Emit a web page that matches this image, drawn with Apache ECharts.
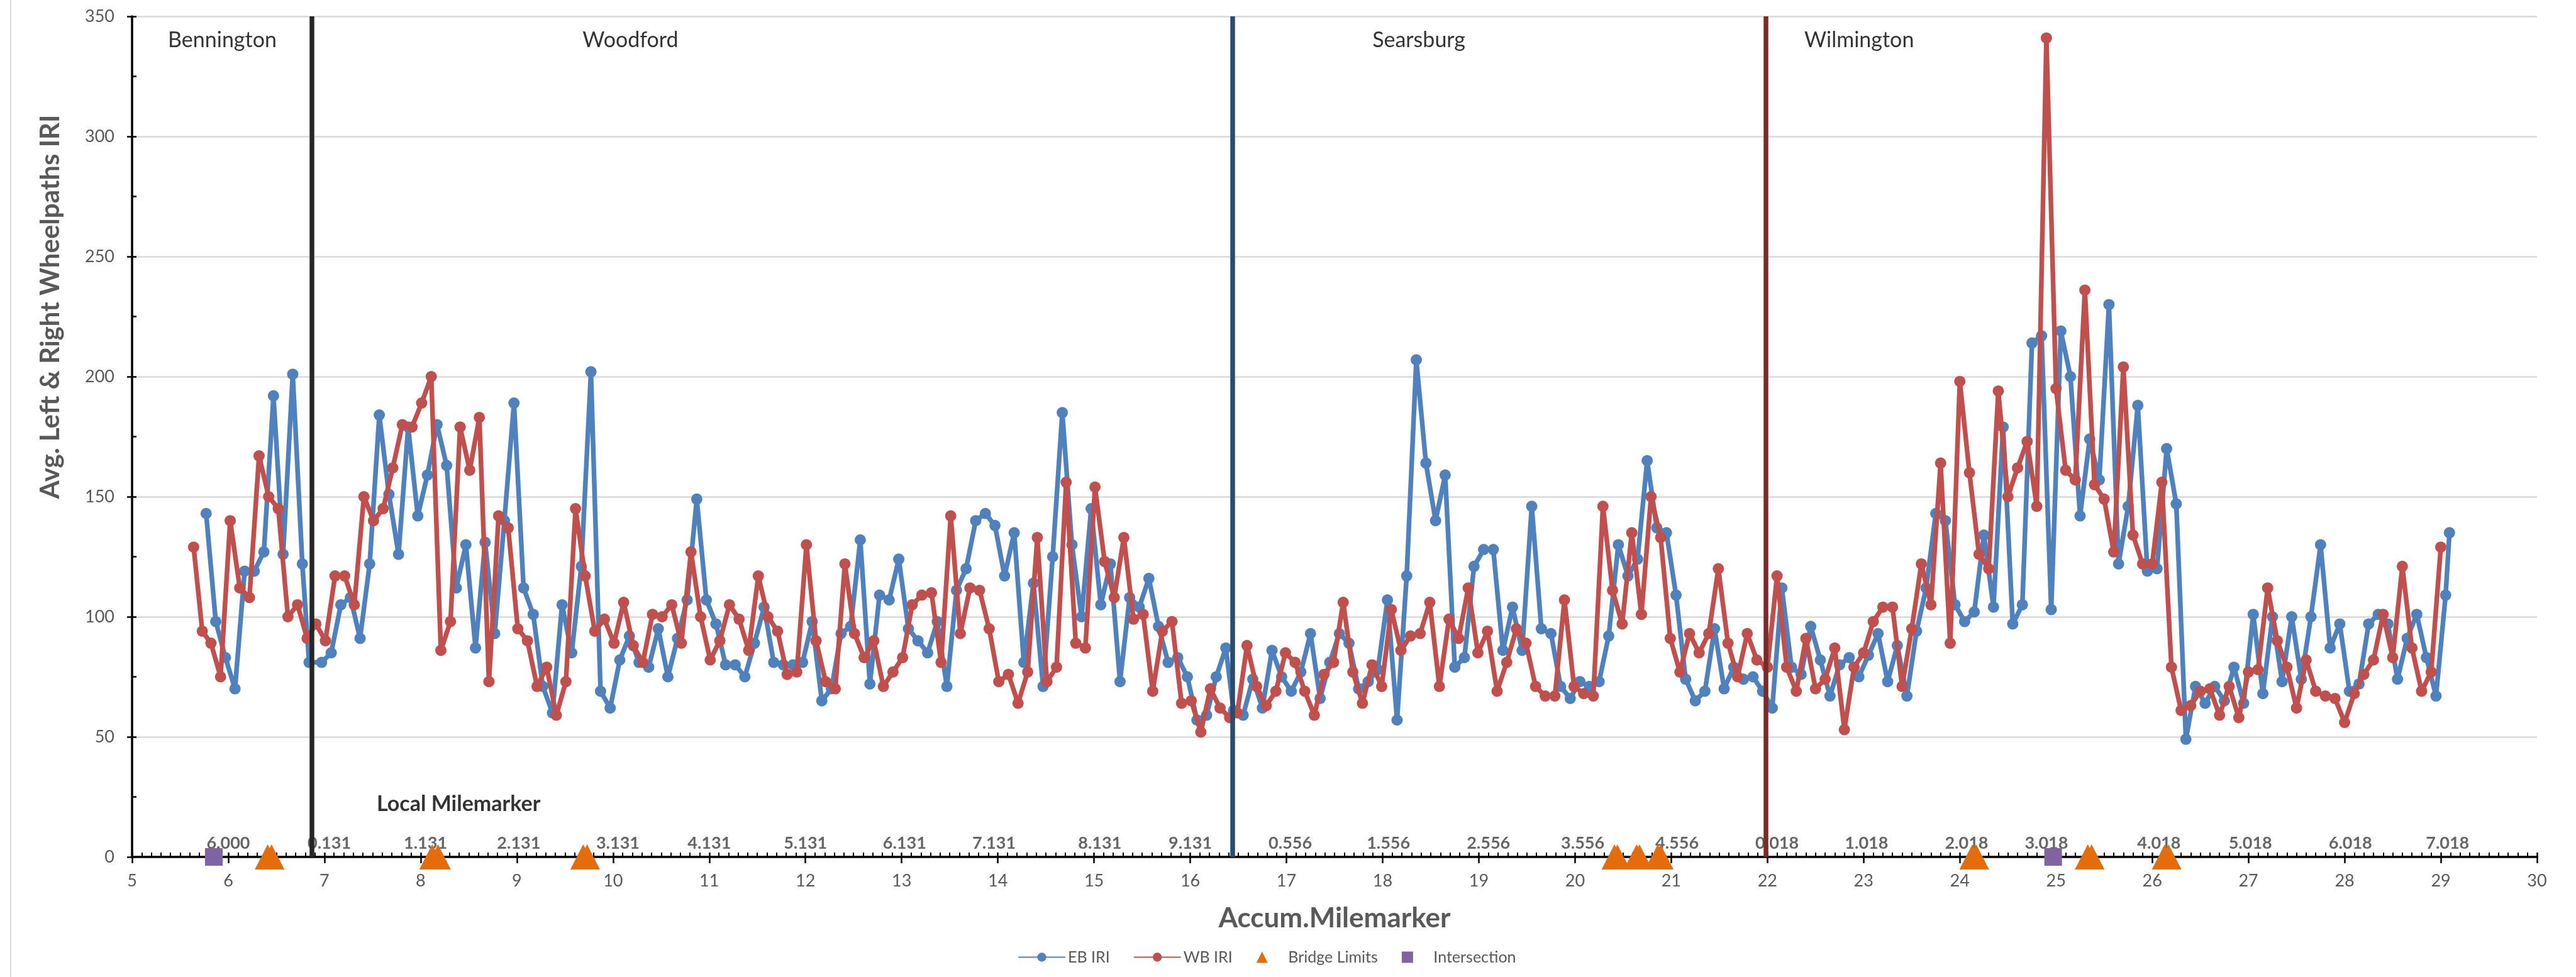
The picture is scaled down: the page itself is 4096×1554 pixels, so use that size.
<!DOCTYPE html>
<html>
<head>
<meta charset="utf-8">
<script src="https://cdn.jsdelivr.net/npm/echarts@6/dist/echarts.min.js"></script>
<style>html,body{margin:0;padding:0;background:#fff;}#chart{width:4096px;height:1554px;}</style>
</head>
<body>
<div id="chart"></div>
<script>
// ---------- EB IRI (eastbound) ----------
const ebMilesBennington = [5.77,5.87,5.97,6.07,6.17,6.27,6.37,6.47,6.57,6.67,6.77,6.84];
const ebIriBennington   = [143,98,83,70,119,119,127,192,126,201,122,81];
const ebMilesWoodford = [6.97,7.07,7.17,7.27,7.37,7.47,7.57,7.67,7.77,7.87,
  7.97,8.07,8.17,8.27,8.37,8.47,8.57,8.67,8.77,8.87,
  8.97,9.07,9.17,9.27,9.37,9.47,9.57,9.67,9.77,9.87,
  9.97,10.07,10.17,10.27,10.37,10.47,10.57,10.67,10.77,10.87,
  10.97,11.07,11.17,11.27,11.37,11.47,11.57,11.67,11.77,11.87,
  11.97,12.07,12.17,12.27,12.37,12.47,12.57,12.67,12.77,12.87,
  12.97,13.07,13.17,13.27,13.37,13.47,13.57,13.67,13.77,13.87,
  13.97,14.07,14.17,14.27,14.37,14.47,14.57,14.67,14.77,14.87,
  14.97,15.07,15.17,15.27,15.37,15.47,15.57,15.67,15.77,15.87,
  15.97,16.07,16.17,16.27,16.37];
const ebIriWoodford = [81,85,105,108,91,122,184,151,126,179,
  142,159,180,163,112,130,87,131,93,140,
  189,112,101,71,60,105,85,121,202,69,
  62,82,92,81,79,95,75,91,107,149,
  107,97,80,80,75,89,104,81,80,80,
  81,98,65,70,93,96,132,72,109,107,
  124,95,90,85,98,71,111,120,140,143,
  138,117,135,81,114,71,125,185,130,100,
  145,105,122,73,108,104,116,96,81,83,
  75,57,59,75,87];
const ebMilesSearsburg = [16.45,16.55,16.65,16.75,16.85,16.95,17.05,17.15,17.25,17.35,
  17.45,17.55,17.65,17.75,17.85,17.95,18.05,18.15,18.25,18.35,
  18.45,18.55,18.65,18.75,18.85,18.95,19.05,19.15,19.25,19.35,
  19.45,19.55,19.65,19.75,19.85,19.95,20.05,20.15,20.25,20.35,
  20.45,20.55,20.65,20.75,20.85,20.95,21.05,21.15,21.25,21.35,
  21.45,21.55,21.65,21.75,21.85,21.95];
const ebIriSearsburg = [61,59,74,62,86,75,69,77,93,66,
  81,93,89,70,73,78,107,57,117,207,
  164,140,159,79,83,121,128,128,86,104,
  86,146,95,93,71,66,73,71,73,92,
  130,117,124,165,137,135,109,74,65,69,
  95,70,79,74,75,69];
const ebMilesWilmington = [22.05,22.15,22.25,22.35,22.45,22.55,22.65,22.75,22.85,22.95,
  23.05,23.15,23.25,23.35,23.45,23.55,23.65,23.75,23.85,23.95,
  24.05,24.15,24.25,24.35,24.45,24.55,24.65,24.75,24.85,24.95,
  25.05,25.15,25.25,25.35,25.45,25.55,25.65,25.75,25.85,25.95,
  26.05,26.15,26.25,26.35,26.45,26.55,26.65,26.75,26.85,26.95,
  27.05,27.15,27.25,27.35,27.45,27.55,27.65,27.75,27.85,27.95,
  28.05,28.15,28.25,28.35,28.45,28.55,28.65,28.75,28.85,28.95,
  29.05,29.09];
const ebIriWilmington = [62,112,79,76,96,82,67,80,83,75,
  84,93,73,88,67,94,112,143,140,105,
  98,102,134,104,179,97,105,214,217,103,
  219,200,142,174,157,230,122,146,188,119,
  120,170,147,49,71,64,71,65,79,64,
  101,68,100,73,100,74,100,130,87,97,
  69,72,97,101,97,74,91,101,83,67,
  109,135];

// ---------- WB IRI (westbound) ----------
const wbMilesBennington = [5.64,5.73,5.82,5.92,6.02,6.12,6.22,6.32,6.42,6.52,6.62,6.72,6.82];
const wbIriBennington   = [129,94,89,75,140,112,108,167,150,145,100,105,91];
const wbMilesWoodford = [6.91,7.01,7.11,7.21,7.31,7.41,7.51,7.61,7.71,7.81,
  7.91,8.01,8.11,8.21,8.31,8.41,8.51,8.61,8.71,8.81,
  8.91,9.01,9.11,9.21,9.31,9.41,9.51,9.61,9.71,9.81,
  9.91,10.01,10.11,10.21,10.31,10.41,10.51,10.61,10.71,10.81,
  10.91,11.01,11.11,11.21,11.31,11.41,11.51,11.61,11.71,11.81,
  11.91,12.01,12.11,12.21,12.31,12.41,12.51,12.61,12.71,12.81,
  12.91,13.01,13.11,13.21,13.31,13.41,13.51,13.61,13.71,13.81,
  13.91,14.01,14.11,14.21,14.31,14.41,14.51,14.61,14.71,14.81,
  14.91,15.01,15.11,15.21,15.31,15.41,15.51,15.61,15.71,15.81,
  15.91,16.01,16.11,16.21,16.31,16.41];
const wbIriWoodford = [97,90,117,117,105,150,140,145,162,180,
  179,189,200,86,98,179,161,183,73,142,
  137,95,90,71,79,59,73,145,117,94,
  99,89,106,88,81,101,100,105,89,127,
  100,82,90,105,99,86,117,100,94,76,
  77,130,90,73,70,122,93,83,90,71,
  77,83,105,109,110,81,142,93,112,111,
  95,73,76,64,77,133,73,79,156,89,
  87,154,123,108,133,99,101,69,94,98,
  64,65,52,70,62,58];
const wbMilesSearsburg = [16.49,16.59,16.69,16.79,16.89,16.99,17.09,17.19,17.29,17.39,
  17.49,17.59,17.69,17.79,17.89,17.99,18.09,18.19,18.29,18.39,
  18.49,18.59,18.69,18.79,18.89,18.99,19.09,19.19,19.29,19.39,
  19.49,19.59,19.69,19.79,19.89,19.99,20.09,20.19,20.29,20.39,
  20.49,20.59,20.69,20.79,20.89,20.99,21.09,21.19,21.29,21.39,
  21.49,21.59,21.69,21.79,21.89];
const wbIriSearsburg = [60,88,71,63,69,85,81,69,59,76,
  81,106,77,64,80,71,103,86,92,93,
  106,71,99,91,112,85,94,69,81,95,
  89,71,67,67,107,71,68,67,146,111,
  97,135,101,150,133,91,77,93,85,93,
  120,89,75,93,82];
const wbMilesWilmington = [22.0,22.1,22.2,22.3,22.4,22.5,22.6,22.7,22.8,22.9,
  23.0,23.1,23.2,23.3,23.4,23.5,23.6,23.7,23.8,23.9,
  24.0,24.1,24.2,24.3,24.4,24.5,24.6,24.7,24.8,24.9,
  25.0,25.1,25.2,25.3,25.4,25.5,25.6,25.7,25.8,25.9,
  26.0,26.1,26.2,26.3,26.4,26.5,26.6,26.7,26.8,26.9,
  27.0,27.1,27.2,27.3,27.4,27.5,27.6,27.7,27.8,27.9,
  28.0,28.1,28.2,28.3,28.4,28.5,28.6,28.7,28.8,28.9,
  29.0];
const wbIriWilmington = [79,117,79,69,91,70,74,87,53,79,
  85,98,104,104,71,95,122,105,164,89,
  198,160,126,120,194,150,162,173,146,341,
  195,161,157,236,155,149,127,204,134,122,
  122,156,79,61,63,69,70,59,71,58,
  77,78,112,90,79,62,82,69,67,66,
  56,68,76,82,101,83,121,87,69,77,
  129];

// ---------- point features ----------
const bridgeMiles = [6.41,6.45,8.12,8.18,9.69,9.73,20.41,20.44,20.64,20.67,20.86,20.89,24.13,24.17,25.33,25.37,26.13,26.17];
const intersectionMiles = [5.85,24.97];

// ---------- town boundaries and labels ----------
const townLineMiles = [6.869,16.444,21.982];
const townLineColors = ['#262626','#2c4a6e','#7a2b29'];
const townNames = ['Bennington','Woodford','Searsburg','Wilmington'];
const townLabelMiles = [5.37,9.68,17.89,22.38];
const townLabelIri = 340;

// ---------- local milemarker labels ----------
const localMarkLabels = ['6.000','0.131','1.131','2.131','3.131','4.131','5.131','6.131','7.131','8.131','9.131',
  '0.556','1.556','2.556','3.556','4.556',
  '0.018','1.018','2.018','3.018','4.018','5.018','6.018','7.018'];
const localMarkMiles = [6.0,7.05,8.05,9.02,10.05,11.0,12.0,13.03,13.96,15.06,16.0,
  17.04,18.06,19.1,20.08,21.06,
  22.1,23.03,24.07,24.9,26.07,27.02,28.06,29.07];
const localMarkIri = 5.7;
const localMarkTitle = 'Local Milemarker';
const localMarkTitlePos = [7.54, 21.9];

// ---------- axes ----------
const xMin = 5, xMax = 30, xStep = 1;
const yMin = 0, yMax = 350, yStep = 50;
const xTitle = 'Accum.Milemarker';
const yTitle = 'Avg. Left & Right Wheelpaths IRI';

const zip = (xs, ys) => xs.map((x, i) => [x, ys[i]]);
const ebData = zip([].concat(ebMilesBennington, ebMilesWoodford, ebMilesSearsburg, ebMilesWilmington),
                   [].concat(ebIriBennington, ebIriWoodford, ebIriSearsburg, ebIriWilmington));
const wbData = zip([].concat(wbMilesBennington, wbMilesWoodford, wbMilesSearsburg, wbMilesWilmington),
                   [].concat(wbIriBennington, wbIriWoodford, wbIriSearsburg, wbIriWilmington));

const FONT = 'Lato';
const chart = echarts.init(document.getElementById('chart'), null, {renderer: 'canvas'});
const option = {
  animation: false,
  backgroundColor: '#ffffff',
  textStyle: {fontFamily: FONT},
  grid: {left: 210, right: 62, top: 26, bottom: 191, containLabel: false},
  graphic: [
    {type: 'line', shape: {x1: 17, y1: 0, x2: 17, y2: 1554}, style: {stroke: '#d9d9d9', lineWidth: 2}},
    {type: 'text', x: 80, y: 488, rotation: Math.PI / 2,
     style: {text: yTitle, font: 'bold 42px Lato', fill: '#595959', textAlign: 'center', textVerticalAlign: 'middle'}}
  ],
  xAxis: [
    {type: 'value', min: xMin, max: xMax, interval: xStep, position: 'bottom',
     name: xTitle, nameLocation: 'middle', nameGap: 76,
     nameTextStyle: {fontFamily: FONT, fontSize: 44, fontWeight: 'bold', color: '#595959'},
     axisLine: {show: true, onZero: false, lineStyle: {color: '#000', width: 3.5}},
     axisTick: {show: true, inside: false, length: 10, lineStyle: {color: '#000', width: 2.5}},
     minorTick: {show: false},
     axisLabel: {show: true, margin: 25, fontSize: 27, color: '#595959', fontFamily: FONT},
     splitLine: {show: false}},
    {type: 'value', min: xMin, max: xMax, interval: xStep, position: 'bottom',
     axisLine: {show: false},
     axisTick: {show: true, inside: true, length: 7, lineStyle: {color: '#000', width: 2.5}},
     minorTick: {show: true, splitNumber: 10, length: 7, lineStyle: {color: '#000', width: 2}},
     axisLabel: {show: false}, splitLine: {show: false}}
  ],
  yAxis: [
    {type: 'value', min: yMin, max: yMax, interval: yStep, position: 'left',
     axisLine: {show: true, onZero: false, lineStyle: {color: '#000', width: 3.5}},
     axisTick: {show: true, inside: false, length: 8, lineStyle: {color: '#000', width: 2.5}},
     axisLabel: {show: true, margin: 28, fontSize: 27, color: '#595959', fontFamily: FONT},
     splitLine: {show: true, lineStyle: {color: '#d9d9d9', width: 2.5}}},
    {type: 'value', min: yMin, max: yMax, interval: yStep, position: 'left',
     axisLine: {show: false},
     axisTick: {show: true, inside: true, length: 7, lineStyle: {color: '#000', width: 2.5}},
     minorTick: {show: true, splitNumber: 2, length: 7, lineStyle: {color: '#000', width: 2.5}},
     axisLabel: {show: false}, splitLine: {show: false}}
  ],
  legend: {
    show: true, left: 1614, top: 1505, orient: 'horizontal',
    itemWidth: 73, itemHeight: 18, itemGap: 38, symbolKeepAspect: true,
    textStyle: {fontFamily: FONT, fontSize: 25, color: '#595959'},
    data: [
      {name: 'EB IRI'},
      {name: 'WB IRI'},
      {name: 'Bridge Limits', icon: 'path://M5,0L10,10L0,10Z'},
      {name: 'Intersection', icon: 'path://M0,0L10,0L10,10L0,10Z'}
    ]
  },
  series: [
    {name: 'EB IRI', type: 'line', data: ebData, z: 2,
     color: '#4f81bd', symbol: 'circle', symbolSize: 18, showSymbol: true,
     lineStyle: {width: 7.5, color: '#4f81bd', join: 'round', cap: 'round'},
     itemStyle: {color: '#4f81bd'}},
    {name: 'WB IRI', type: 'line', data: wbData, z: 3,
     color: '#c0504d', symbol: 'circle', symbolSize: 18, showSymbol: true,
     lineStyle: {width: 7.5, color: '#c0504d', join: 'round', cap: 'round'},
     itemStyle: {color: '#c0504d'}},
    {name: 'town lines', type: 'line', data: [], z: 4, silent: true,
     markLine: {silent: true, symbol: ['none', 'none'], animation: false, label: {show: false},
       lineStyle: {width: 7.5, type: 'solid'},
       data: townLineMiles.map((m, i) => ({xAxis: m, lineStyle: {color: townLineColors[i], width: 7.5, type: 'solid'}}))}},
    {name: 'Bridge Limits', type: 'scatter', z: 6, color: '#e46c0a',
     symbol: 'triangle', symbolSize: [41, 40],
     itemStyle: {color: '#e46c0a', opacity: 1},
     data: bridgeMiles.map(m => [m, 0])},
    {name: 'Intersection', type: 'scatter', z: 6, color: '#8064a2',
     symbol: 'rect', symbolSize: 28,
     itemStyle: {color: '#8064a2', opacity: 1},
     data: intersectionMiles.map(m => [m, 0])},
    {name: 'town names', type: 'scatter', z: 7, silent: true, symbolSize: 1,
     itemStyle: {color: 'rgba(0,0,0,0)'},
     label: {show: true, position: 'right', distance: 0, formatter: p => p.name,
       fontFamily: FONT, fontSize: 34, color: '#000'},
     data: townNames.map((n, i) => ({name: n, value: [townLabelMiles[i], townLabelIri]}))},
    {name: 'local title', type: 'scatter', z: 7, silent: true, symbolSize: 1,
     itemStyle: {color: 'rgba(0,0,0,0)'},
     label: {show: true, position: 'right', distance: 0, formatter: p => p.name,
       fontFamily: FONT, fontSize: 34, fontWeight: 'bold', color: '#000'},
     data: [{name: localMarkTitle, value: localMarkTitlePos}]},
    {name: 'local marks', type: 'scatter', z: 3, silent: true, symbolSize: 1,
     itemStyle: {color: 'rgba(0,0,0,0)'},
     label: {show: true, position: 'inside', formatter: p => p.name,
       fontFamily: FONT, fontSize: 27, fontWeight: 'bold', color: '#404040'},
     data: localMarkLabels.map((t, i) => ({name: t, value: [localMarkMiles[i], localMarkIri]}))}
  ]
};
chart.setOption(option);
</script>
</body>
</html>
